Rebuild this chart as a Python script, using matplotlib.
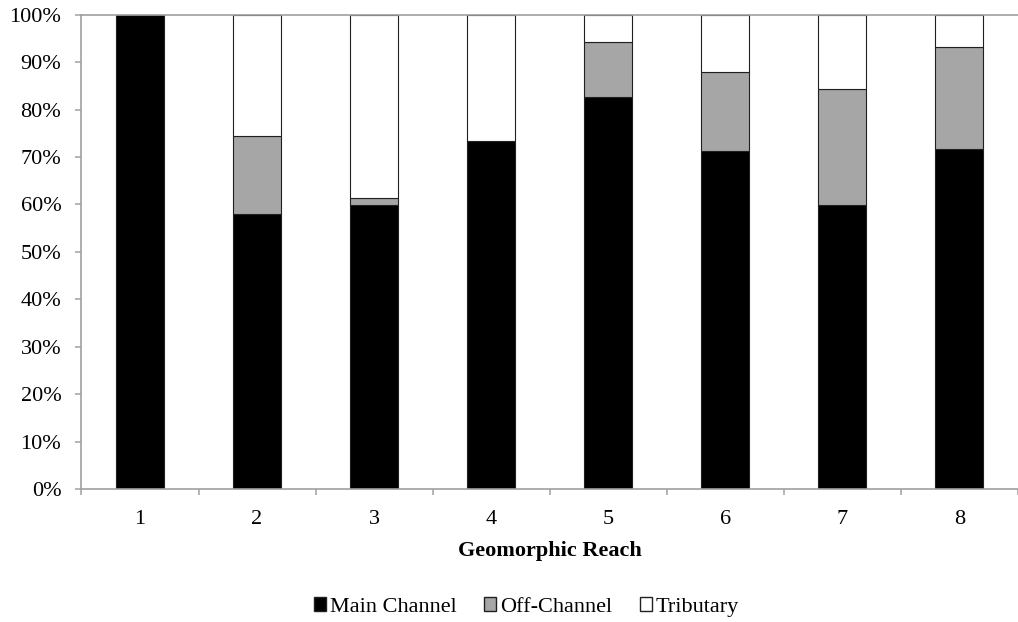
import matplotlib.pyplot as plt
import numpy as np
from matplotlib.patches import Patch

reaches = ["1", "2", "3", "4", "5", "6", "7", "8"]
main_channel = [100.0, 57.9, 59.8, 73.3, 82.7, 71.3, 59.8, 71.7]
off_channel = [0.0, 16.6, 1.6, 0.0, 11.5, 16.7, 24.6, 21.5]
tributary = [100 - m - o for m, o in zip(main_channel, off_channel)]

plt.rcParams['font.family'] = ['Liberation Serif', 'DejaVu Serif']

fig = plt.figure(figsize=(10.18, 6.22), dpi=100)
ax = fig.add_axes([0.08, 0.2138, 0.92, 0.7626])

x = np.arange(len(reaches))
w = 0.41
ax.bar(x, main_channel, w, color="black", edgecolor="#202020", linewidth=0.8, label="Main Channel")
ax.bar(x, off_channel, w, bottom=main_channel, color="#a6a6a6", edgecolor="#202020", linewidth=0.8, label="Off-Channel")
bot = [m + o for m, o in zip(main_channel, off_channel)]
ax.bar(x, tributary, w, bottom=bot, color="white", edgecolor="#202020", linewidth=0.8, label="Tributary")

ax.set_xlim(-0.5, 7.42)
ax.set_ylim(0, 100)
ax.set_yticks(range(0, 101, 10))
ax.set_yticklabels([f"{v}%" for v in range(0, 101, 10)], fontsize=16)
ax.set_xticks(x)
ax.set_xticklabels(reaches, fontsize=16)
ax.set_xticks(np.arange(-0.5, 8, 1), minor=True)
ax.tick_params(axis='x', which='major', length=0, pad=15)
ax.tick_params(axis='x', which='minor', length=4.5, color="#a0a0a0", width=1.1)
ax.tick_params(axis='y', length=4.5, color="#a0a0a0", width=1.1, pad=10)

for s in ['left', 'bottom', 'top']:
    ax.spines[s].set_color("#a0a0a0")
    ax.spines[s].set_linewidth(1.2)
ax.spines['right'].set_visible(False)

ax.set_xlabel("Geomorphic Reach", fontsize=16, fontweight='bold', labelpad=8.5)

handles = [Patch(facecolor="black", edgecolor="#202020"),
           Patch(facecolor="#a6a6a6", edgecolor="#202020"),
           Patch(facecolor="white", edgecolor="#202020")]
fig.legend(handles, ["Main Channel", "Off-Channel", "Tributary"], loc='center',
           bbox_to_anchor=(0.517, 0.024), ncol=3, frameon=False, fontsize=16,
           handlelength=0.55, handleheight=0.55, handletextpad=0.15, columnspacing=1.25)

fig.savefig("out.png", dpi=100)
